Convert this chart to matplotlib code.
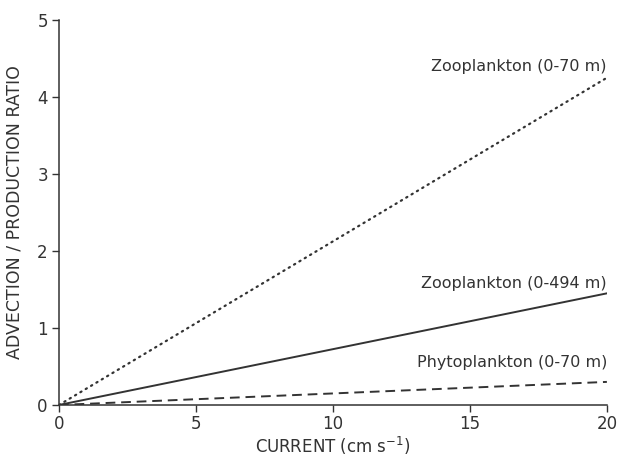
import matplotlib

matplotlib.use("Agg")
import matplotlib.pyplot as plt

# current speed (cm/s) at the two ends of each line
current = [0, 20]
zoo_upper = [0, 4.25]      # Zooplankton (0-70 m)
zoo_full = [0, 1.45]       # Zooplankton (0-494 m)
phyto = [0, 0.30]          # Phytoplankton (0-70 m)

labels = ["Zooplankton (0-70 m)", "Zooplankton (0-494 m)", "Phytoplankton (0-70 m)"]
label_y = [4.40, 1.58, 0.55]

x_ticks = [0, 5, 10, 15, 20]
y_ticks = [0, 1, 2, 3, 4, 5]

ink = "#333333"
plt.rcParams["font.family"] = ["DejaVu Sans"]

fig = plt.figure(figsize=(6.17, 4.62), dpi=100)
ax = fig.add_axes([0.0956, 0.1234, 0.888, 0.8333])

ax.plot(current, zoo_upper, color=ink, lw=1.6, linestyle=(0, (0.6, 2.2)), dash_capstyle="round")
ax.plot(current, zoo_full, color=ink, lw=1.4)
ax.plot(current, phyto, color=ink, lw=1.4, linestyle=(0, (5, 3)))

for text, y in zip(labels, label_y):
    ax.text(20, y, text, ha="right", va="center", fontsize=11.5, color=ink)

ax.set_xlim(0, 20)
ax.set_ylim(0, 5)
ax.set_xticks(x_ticks)
ax.set_yticks(y_ticks)
ax.tick_params(colors=ink, labelsize=12, length=5, width=1)
ax.tick_params(axis="x", pad=2.5)
ax.tick_params(axis="y", pad=3)
for side in ("top", "right"):
    ax.spines[side].set_visible(False)
for side in ("left", "bottom"):
    ax.spines[side].set_color(ink)
    ax.spines[side].set_linewidth(1.1)

ax.set_xlabel("CURRENT (cm s$^{-1}$)", fontsize=12, color=ink, labelpad=1)
ax.set_ylabel("ADVECTION / PRODUCTION RATIO", fontsize=12.5, color=ink, labelpad=10)

fig.savefig("out.png", dpi=100)
